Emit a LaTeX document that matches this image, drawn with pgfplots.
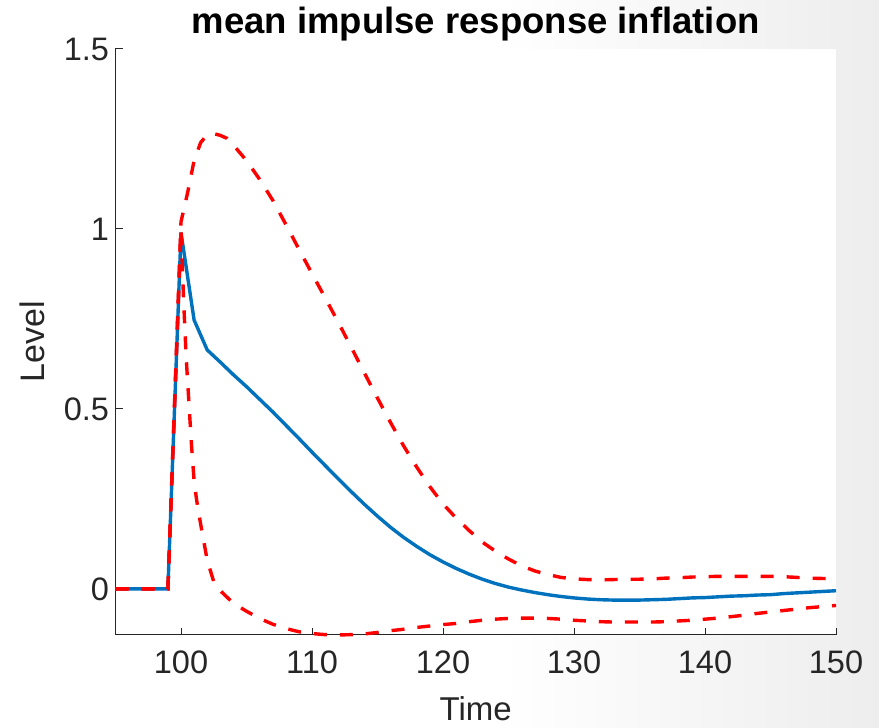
\documentclass[border=0pt]{standalone}
\usepackage{pgfplots}
\pgfplotsset{compat=1.18}
\usepackage{fontspec}
\setmainfont{Liberation Sans}
\definecolor{mblue}{rgb}{0,0.447,0.741}
\definecolor{axgray}{HTML}{262626}

\begin{document}
\begin{tikzpicture}
\path[use as bounding box] (0,0) rectangle (879pt,728pt);
\fill[white] (0,0) rectangle (879pt,728pt);
\shade[left color=white, right color=black!7] (500pt,0) rectangle (879pt,728pt);
\begin{axis}[
	at={(115.5pt,93pt)}, anchor=south west,
	scale only axis, width=720.5pt, height=586pt,
	xmin=95, xmax=150, ymin=-0.128, ymax=1.5,
	axis x line=bottom, axis y line=left,
	axis line style={-, draw=axgray, line width=1pt},
	axis background/.style={fill=white},
	xtick={100,110,...,150}, ytick={0,0.5,1,1.5},
	tick align=inside, major tick length=7pt,
	tick style={draw=axgray, line width=1pt},
	/pgf/number format/assume math mode=true,
	/pgf/number format/1000 sep={},
	ticklabel style={font=\fontsize{32.5}{36}\selectfont, text=axgray},
	xticklabel style={yshift=-12pt},
	yticklabel style={xshift=-3pt},
	title={\textbf{mean impulse response inflation}},
	title style={at={(axis description cs:0.5,1.0154)}, anchor=base, font=\fontsize{36.5}{40}\selectfont},
	xlabel={Time},
	xlabel style={at={(axis description cs:0.5,-0.1465)}, anchor=base, font=\fontsize{33}{38}\selectfont, text=axgray},
	ylabel={Level},
	ylabel style={at={(axis description cs:-0.0979,0.5)}, anchor=base, rotate=0, font=\fontsize{34}{38}\selectfont, text=axgray},
	clip=false,
]
% mean response
\addplot[mblue, line width=3.4pt] coordinates {
(95,0) (96,0) (97,0) (98,0) (99,0) (100,0.99) (101,0.747) (102,0.664)
(103,0.63) (104,0.595) (105,0.562) (106,0.527) (107,0.492) (108,0.455)
(109,0.418) (110,0.380) (111,0.343) (112,0.306) (113,0.270) (114,0.235)
(115,0.202) (116,0.171) (117,0.143) (118,0.118) (119,0.095) (120,0.075)
(121,0.057) (122,0.041) (123,0.027) (124,0.015) (125,0.005) (126,-0.003)
(127,-0.010) (128,-0.016) (129,-0.021) (130,-0.025) (131,-0.028) (132,-0.030)
(133,-0.031) (134,-0.031) (135,-0.031) (136,-0.030) (137,-0.029) (138,-0.027)
(139,-0.025) (140,-0.024) (141,-0.022) (142,-0.020) (143,-0.019) (144,-0.017)
(145,-0.016) (146,-0.013) (147,-0.011) (148,-0.009) (149,-0.007) (150,-0.005)
};
% upper band
\addplot[red, line width=3.4pt, dash pattern=on 13pt off 13pt] coordinates {
(95,0) (96,0) (97,0) (98,0) (99,0) (100,1.02) (100.5,1.10) (101,1.19)
(101.5,1.24) (102,1.262) (102.5,1.265) (103,1.26) (103.5,1.252) (104,1.233)
(105,1.19) (106,1.138) (107,1.080) (108,1.013) (109,0.944) (110,0.876)
(111,0.809) (112,0.741) (113,0.671) (114,0.600) (115,0.530) (116,0.462)
(117,0.397) (118,0.338) (119,0.284) (120,0.236) (121,0.197) (122,0.162)
(123,0.130) (124,0.105) (125,0.083) (126,0.064) (127,0.050) (128,0.040)
(129,0.032) (130,0.028) (131,0.026) (132,0.025) (133,0.026) (134,0.027)
(135,0.027) (136,0.028) (137,0.030) (138,0.031) (139,0.033) (140,0.034)
(141,0.035) (142,0.035) (143,0.035) (144,0.035) (145,0.035) (146,0.034)
(147,0.032) (148,0.030) (149,0.029) (150,0.028)
};
% lower band
\addplot[red, line width=3.4pt, dash pattern=on 13pt off 13pt] coordinates {
(95,0) (96,0) (97,0) (98,0) (99,0) (100,1.0) (100.2,0.80) (100.4,0.64)
(100.6,0.52) (100.8,0.40) (101,0.30) (101.2,0.245) (101.5,0.18) (102,0.08)
(102.5,0.02) (103,-0.005) (104,-0.04) (105,-0.062) (106,-0.082) (107,-0.098)
(108,-0.110) (109,-0.119) (110,-0.124) (111,-0.127) (112,-0.128) (113,-0.127)
(114,-0.125) (115,-0.121) (116,-0.116) (117,-0.112) (118,-0.107) (119,-0.103)
(120,-0.099) (121,-0.096) (122,-0.091) (123,-0.087) (124,-0.084) (125,-0.082)
(126,-0.081) (127,-0.081) (128,-0.082) (129,-0.084) (130,-0.087) (131,-0.089)
(132,-0.091) (133,-0.092) (134,-0.092) (135,-0.092) (136,-0.092) (137,-0.091)
(138,-0.089) (139,-0.087) (140,-0.084) (141,-0.081) (142,-0.077) (143,-0.073)
(144,-0.068) (145,-0.064) (146,-0.060) (147,-0.056) (148,-0.052) (149,-0.049)
(150,-0.046)
};
\end{axis}
\end{tikzpicture}
\end{document}
